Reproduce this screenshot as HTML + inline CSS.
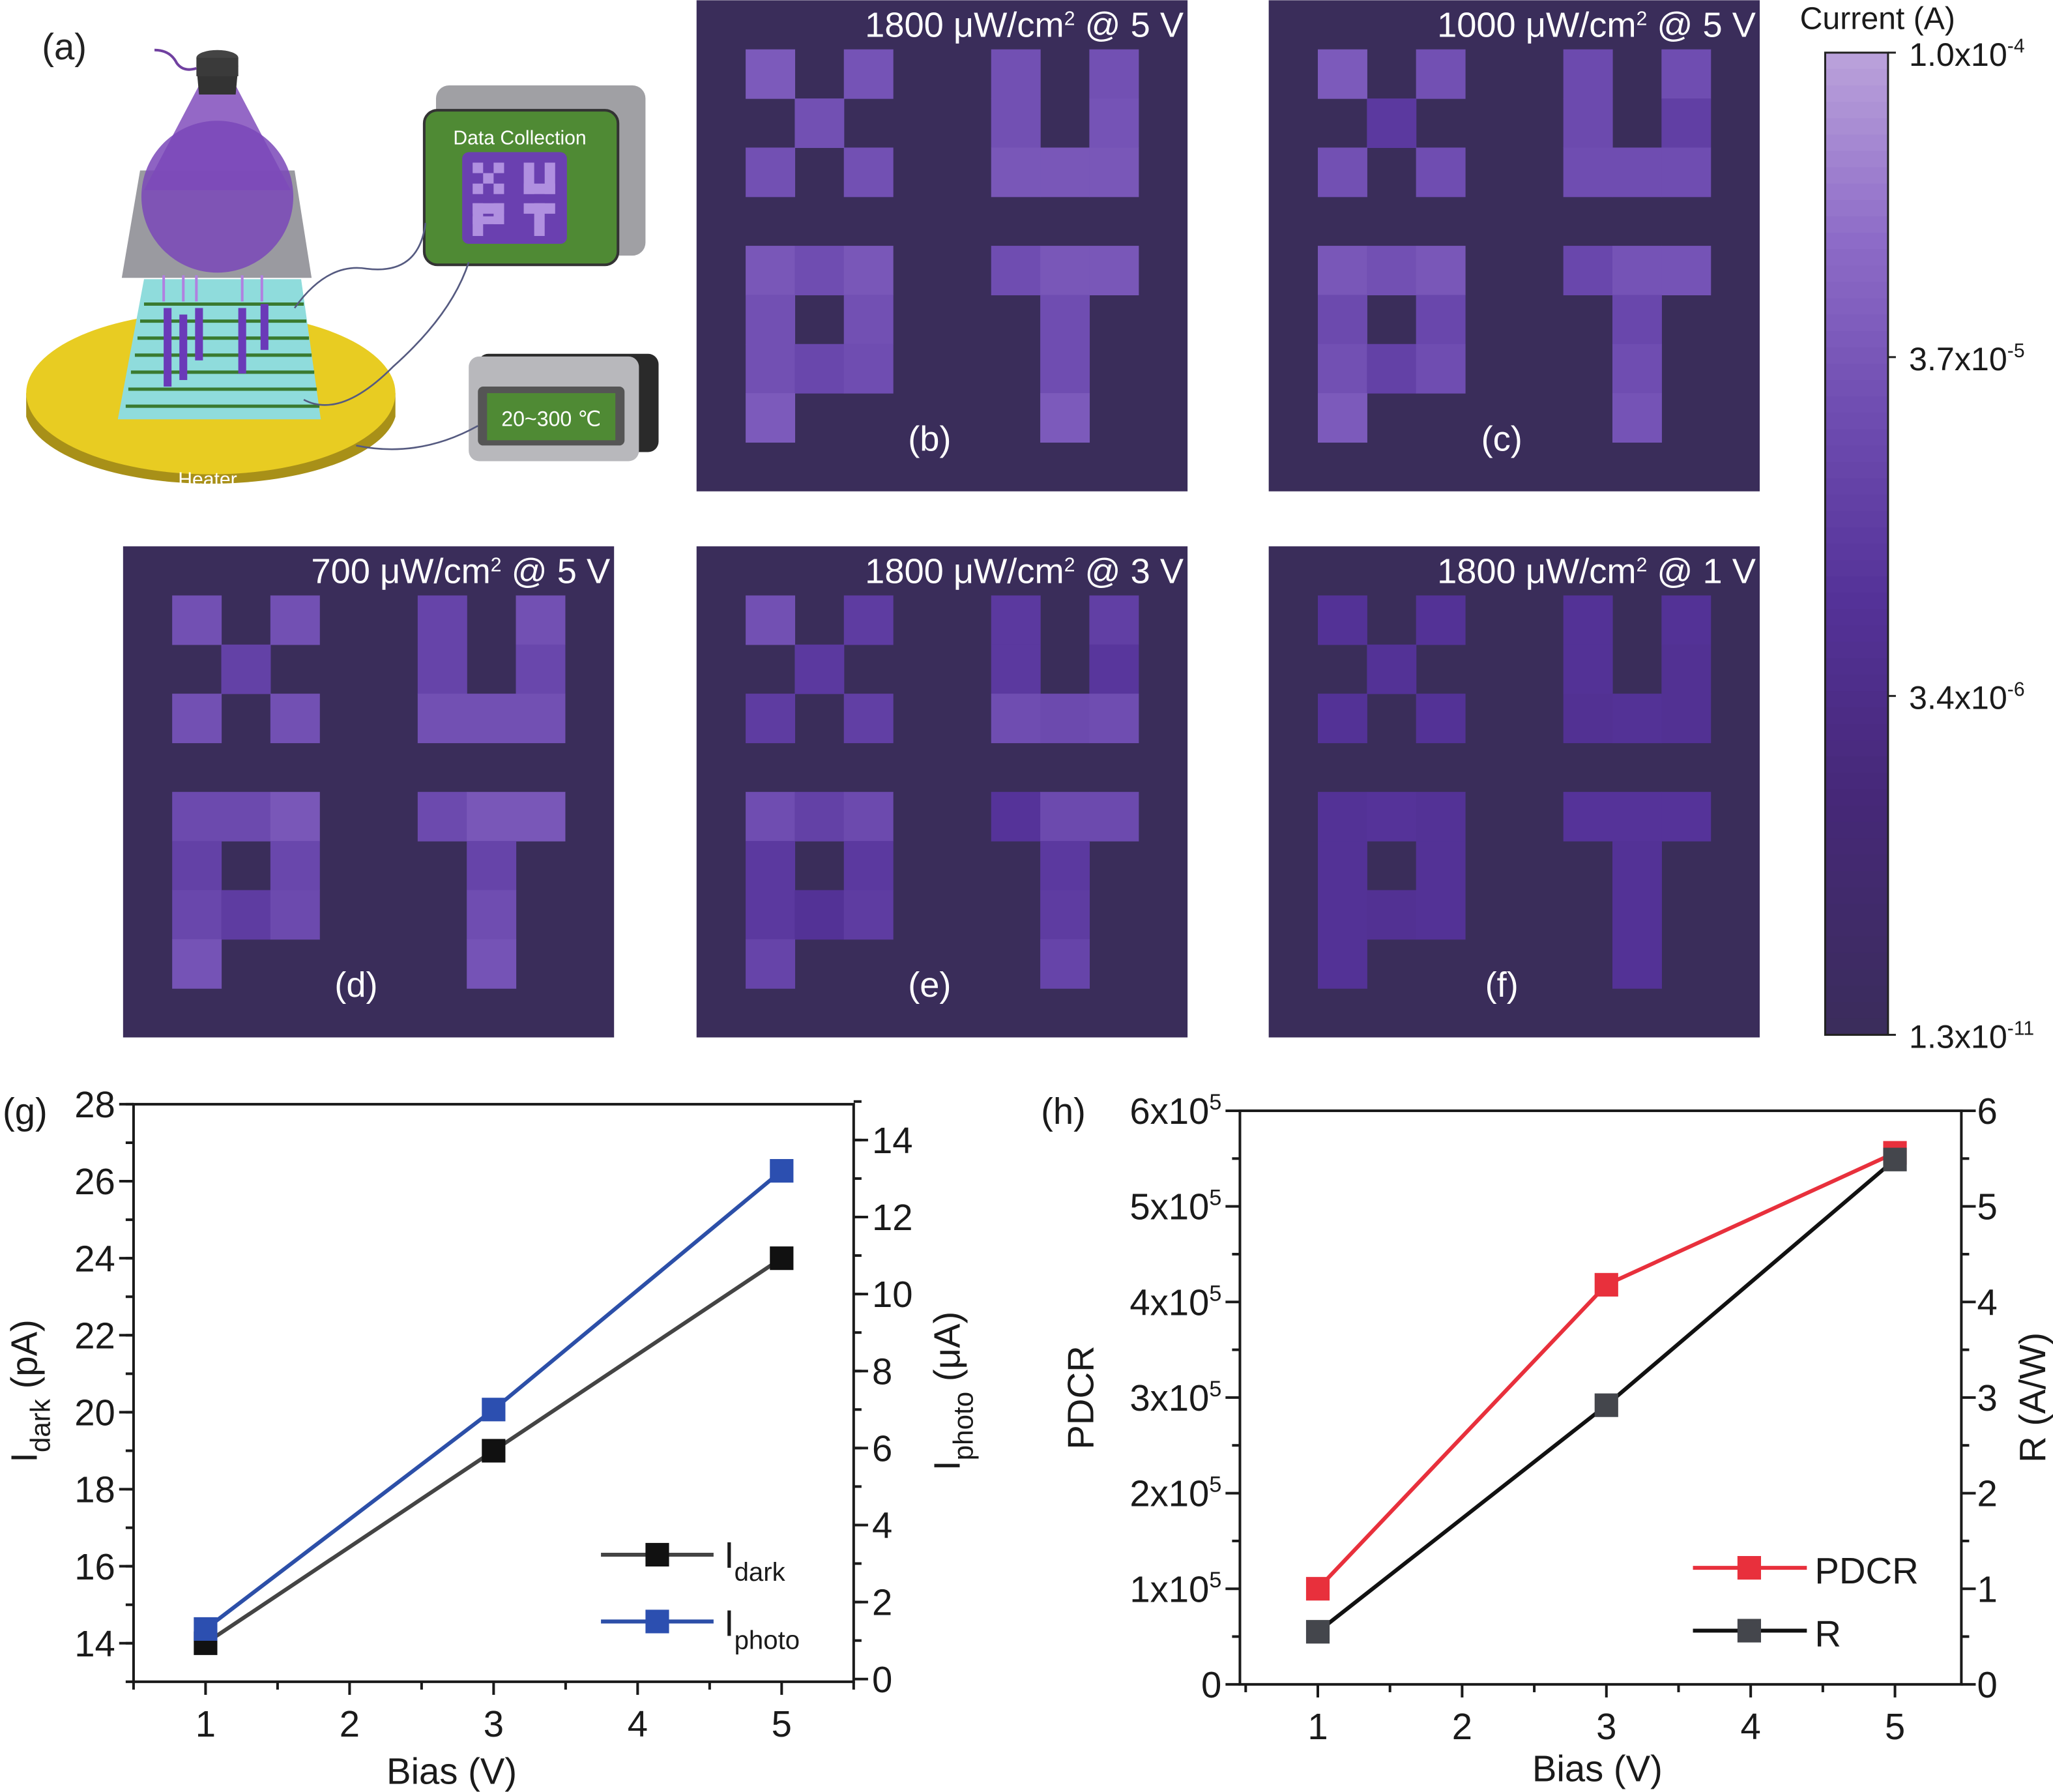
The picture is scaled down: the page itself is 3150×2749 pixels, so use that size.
<!DOCTYPE html>
<html><head><meta charset="utf-8"><style>
html,body{margin:0;padding:0;background:#fff}
svg{display:block}
text{font-family:"Liberation Sans",sans-serif}
</style></head><body>
<svg id="fig" xmlns="http://www.w3.org/2000/svg" width="3150" height="2749" viewBox="0 0 1568 1368">
<rect width="1568" height="1368" fill="#fff"/>
<!-- Panel (a) schematic -->
<g>
<text x="32" y="45" font-size="28" fill="#222">(a)</text>
<path d="M20 300 L20 318 A142 58 0 0 0 302 318 L302 300 Z" fill="#a89018"/>
<ellipse cx="161" cy="300" rx="141" ry="62" fill="#e8cc22"/>
<text x="136" y="371" font-size="15" fill="#fff" font-family="Liberation Serif">Heater</text>
<polygon points="110,213 230,213 245,320 90,320" fill="#8fdcdc"/>
<g stroke="#3a7a30" stroke-width="2.5">
<line x1="110" y1="232" x2="232" y2="232"/><line x1="107" y1="245" x2="234" y2="245"/><line x1="105" y1="258" x2="236" y2="258"/><line x1="103" y1="271" x2="238" y2="271"/><line x1="100" y1="284" x2="240" y2="284"/><line x1="98" y1="297" x2="242" y2="297"/><line x1="96" y1="310" x2="244" y2="310"/></g>
<g fill="#6a3ab8"><rect x="125" y="235" width="6" height="60"/><rect x="137" y="240" width="6" height="50"/><rect x="149" y="235" width="6" height="40"/><rect x="182" y="235" width="6" height="50"/><rect x="199" y="232" width="6" height="35"/></g>
<polygon points="107,130 225,130 238,212 93,212" fill="#9a9aa0"/>
<polygon points="152,65 180,65 222,145 110,145" fill="#8858c0" opacity="0.9"/>
<ellipse cx="166" cy="150" rx="58" ry="58" fill="#7a48b8" opacity="0.85"/>
<polygon points="150,50 182,50 180,72 152,72" fill="#333"/>
<ellipse cx="166" cy="44" rx="16" ry="6" fill="#444"/>
<rect x="150" y="44" width="32" height="14" fill="#3a3a3a"/>
<path d="M118 38 Q130 38 135 48 Q140 55 150 52" stroke="#7040a0" stroke-width="2" fill="none"/>
<g stroke="#b080e0" stroke-width="2"><line x1="125" y1="210" x2="125" y2="230"/><line x1="140" y1="210" x2="140" y2="230"/><line x1="150" y1="210" x2="150" y2="230"/><line x1="185" y1="210" x2="185" y2="230"/><line x1="200" y1="210" x2="200" y2="230"/></g>
<rect x="333" y="65" width="160" height="130" rx="10" fill="#a0a0a4"/>
<rect x="324" y="84" width="148" height="118" rx="10" fill="#4f8a34" stroke="#333" stroke-width="2"/>
<text x="397" y="110" font-size="15" fill="#fff" font-family="Liberation Serif" text-anchor="middle">Data Collection</text>
<rect x="353" y="116" width="80" height="70" rx="5" fill="#6a40b0"/>
<g fill="#b090e0"><rect x="361" y="124" width="8" height="8"/><rect x="377" y="124" width="8" height="8"/><rect x="369" y="132" width="8" height="8"/><rect x="361" y="140" width="8" height="8"/><rect x="377" y="140" width="8" height="8"/><rect x="400" y="124" width="8" height="24"/><rect x="416" y="124" width="8" height="24"/><rect x="400" y="140" width="24" height="8"/><rect x="361" y="155" width="24" height="8"/><rect x="361" y="155" width="8" height="25"/><rect x="377" y="155" width="8" height="16"/><rect x="361" y="165" width="24" height="6"/><rect x="400" y="155" width="24" height="8"/><rect x="408" y="155" width="8" height="25"/></g>
<rect x="365" y="270" width="138" height="75" rx="8" fill="#2a2a2a"/>
<rect x="358" y="272" width="130" height="80" rx="8" fill="#b8b8bc"/>
<rect x="365" y="295" width="112" height="45" rx="4" fill="#555"/>
<rect x="372" y="300" width="98" height="36" fill="#4f8a34"/>
<text x="421" y="325" font-size="16" fill="#fff" text-anchor="middle">20~300 ℃</text>
<g stroke="#555a80" stroke-width="1.3" fill="none"><path d="M225 235 Q250 200 280 205 Q320 210 325 170"/><path d="M232 305 Q260 320 300 280 Q345 240 358 200"/><path d="M272 340 Q320 350 365 325"/></g>
</g>
<g id="maps"></g>
<g id="cbar"></g>
<g id="chartG"></g>
<g id="chartH"></g>
</svg>
<script>
const NS="http://www.w3.org/2000/svg";
function mk(p,tag,attrs){const e=document.createElementNS(NS,tag);for(const k in attrs)e.setAttribute(k,attrs[k]);p.appendChild(e);return e;}
function txt(p,x,y,s,size,anchor,extra){const t=mk(p,'text',Object.assign({x:x,y:y,'font-size':size,'text-anchor':anchor||'start',fill:'#1a1a1a'},extra||{}));t.innerHTML=s;return t;}

// ---------- Heatmap data ----------
const mapTitles=["1800 μW/cm<tspan dy='-9' font-size='15'>2</tspan><tspan dy='9'> @ 5 V</tspan>","1000 μW/cm<tspan dy='-9' font-size='15'>2</tspan><tspan dy='9'> @ 5 V</tspan>","700 μW/cm<tspan dy='-9' font-size='15'>2</tspan><tspan dy='9'> @ 5 V</tspan>","1800 μW/cm<tspan dy='-9' font-size='15'>2</tspan><tspan dy='9'> @ 3 V</tspan>","1800 μW/cm<tspan dy='-9' font-size='15'>2</tspan><tspan dy='9'> @ 1 V</tspan>"];
const mapLabels=["(b)","(c)","(d)","(e)","(f)"];
// lit pixels [col,row] in 10x10 grid (X, U, P, T)
const litCells=[[1,1],[3,1],[2,2],[1,3],[3,3],[6,1],[8,1],[6,2],[8,2],[6,3],[7,3],[8,3],
[1,5],[2,5],[3,5],[1,6],[3,6],[1,7],[2,7],[3,7],[1,8],[6,5],[7,5],[8,5],[7,6],[7,7],[7,8]];
// normalized intensity (0..1 on colorbar) per lit cell, per panel
const mapB=[0.72,0.68,0.66,0.66,0.66,0.66,0.66,0.66,0.68,0.7,0.7,0.7,0.7,0.64,0.7,0.66,0.66,0.66,0.6,0.64,0.72,0.64,0.7,0.7,0.64,0.64,0.72];
const mapC=[0.72,0.66,0.5,0.66,0.64,0.62,0.64,0.62,0.54,0.64,0.64,0.64,0.7,0.66,0.7,0.62,0.6,0.66,0.56,0.64,0.72,0.6,0.68,0.68,0.6,0.64,0.68];
const mapD=[0.66,0.66,0.56,0.66,0.66,0.58,0.66,0.58,0.6,0.66,0.66,0.66,0.62,0.62,0.7,0.56,0.6,0.6,0.52,0.62,0.68,0.62,0.7,0.7,0.58,0.64,0.68];
const mapE=[0.66,0.52,0.5,0.52,0.54,0.5,0.54,0.5,0.48,0.64,0.62,0.64,0.64,0.56,0.62,0.5,0.5,0.5,0.44,0.52,0.58,0.46,0.62,0.62,0.5,0.52,0.58];
const mapF=[0.44,0.44,0.44,0.44,0.44,0.44,0.44,0.44,0.42,0.42,0.44,0.42,0.44,0.46,0.44,0.44,0.44,0.44,0.42,0.44,0.44,0.46,0.46,0.46,0.44,0.44,0.44];
const mapPos=[[532,0],[969,0],[94,417],[532,417],[969,417]];
const allMaps=[mapB,mapC,mapD,mapE,mapF];

// colormap: 0 -> dark bg, 1 -> light lilac
const cstops=[[0,[58,45,90]],[0.25,[70,40,120]],[0.45,[84,50,152]],[0.65,[112,78,178]],[0.82,[142,108,200]],[1,[185,160,218]]];
function cmap(v){for(let i=1;i<cstops.length;i++){if(v<=cstops[i][0]){const a=cstops[i-1],b=cstops[i];const t=(v-a[0])/(b[0]-a[0]);return 'rgb('+a[1].map((c,j)=>Math.round(c+(b[1][j]-c)*t)).join(',')+')';}}return 'rgb(185,160,218)';}

const maps=document.getElementById('maps');
const cell=37.5;
allMaps.forEach((vals,m)=>{
  const g=mk(maps,'g',{});
  
  
  const [ox,oy]=mapPos[m];
  mk(g,'rect',{x:ox,y:oy,width:375,height:375,fill:'#3a2d5a'});
  litCells.forEach((c,i)=>{
    const r=mk(g,'rect',{x:ox+c[0]*cell,y:oy+c[1]*cell,width:cell+0.3,height:cell+0.3,fill:cmap(vals[i])});
    
    
  });
  const t=txt(g,ox+372,oy+28,mapTitles[m],27,'end',{fill:'#fff'});
  
  
  const l=txt(g,ox+(m==2||m==4?178:178),oy+344,mapLabels[m],27,'middle',{fill:'#fff'});
  
  
});

// ---------- Colorbar ----------
const cbTicks=["1.0x10<tspan dy='-10' font-size='15'>-4</tspan>","3.7x10<tspan dy='-10' font-size='15'>-5</tspan>","3.4x10<tspan dy='-10' font-size='15'>-6</tspan>","1.3x10<tspan dy='-10' font-size='15'>-11</tspan>"];
const cbTickFrac=[1,0.69,0.345,0];
const cb=document.getElementById('cbar');


const cbX=1394,cbTop=40,cbBot=790,cbW=48;
const N=60;
for(let i=0;i<N;i++){const v=1-i/N;mk(cb,'rect',{x:cbX,y:cbTop+i*(cbBot-cbTop)/N,width:cbW,height:(cbBot-cbTop)/N+0.6,fill:cmap(v)});}
mk(cb,'rect',{x:cbX,y:cbTop,width:cbW,height:cbBot-cbTop,fill:'none',stroke:'#222','stroke-width':1.5});
cbTickFrac.forEach((f,i)=>{const y=cbBot-f*(cbBot-cbTop);mk(cb,'line',{x1:cbX+cbW,x2:cbX+cbW+6,y1:y,y2:y,stroke:'#222','stroke-width':1.5});
 const t=txt(cb,cbX+cbW+16,y+10,cbTicks[i],25,'start');});
const cbt=txt(cb,1434,22,'Current (A)',24,'middle');

// ---------- Chart (g) data ----------
const biasG=[1,3,5];
const idark=[14,19,24];
const iphoto=[1.3,7.0,13.2];
const gLeftTicks=[14,16,18,20,22,24,26,28];
const gRightTicks=[0,2,4,6,8,10,12,14];
const xTicks=[1,2,3,4,5];
// ---------- Chart (h) data ----------
const biasH=[1,3,5];
const pdcr=[1.0,4.18,5.56]; // x10^5
const resp=[0.55,2.92,5.49];
const hLeftTicks=[0,1,2,3,4,5,6];
const hRightTicks=[0,1,2,3,4,5,6];

function drawAxes(g,L,R,T,B,xs,yl,yr,xT,ylT,yrT,ylMinor,yrMinor){
  mk(g,'rect',{x:L,y:T,width:R-L,height:B-T,fill:'none',stroke:'#1a1a1a','stroke-width':2});
  xT.forEach(v=>{const x=xs(v);mk(g,'line',{x1:x,x2:x,y1:B,y2:B+10,stroke:'#1a1a1a','stroke-width':2});
    const t=txt(g,x,B+42,String(v),28,'middle');});
  for(let v=xT[0]-0.5;v<=xT[xT.length-1]+0.5;v+=1){const x=xs(v);if(x>=L-1&&x<=R+1)mk(g,'line',{x1:x,x2:x,y1:B,y2:B+6,stroke:'#1a1a1a','stroke-width':2});}
  ylMinor.forEach(v=>{const y=yl(v);mk(g,'line',{x1:L-6,x2:L,y1:y,y2:y,stroke:'#1a1a1a','stroke-width':2});});
  yrMinor.forEach(v=>{const y=yr(v);mk(g,'line',{x1:R,x2:R+6,y1:y,y2:y,stroke:'#1a1a1a','stroke-width':2});});
}

// Chart g
(function(){
  const g=document.getElementById('chartG');
  
  
  const L=102,R=652,T=843,B=1284;
  const xs=v=>L+(v-0.5)/5*(R-L);
  const yl=v=>B-(v-13)/15*(B-T);
  const yr=v=>B-(v+0.07)/15*(B-T);
  const lm=[],rm=[];for(let v=13;v<=28;v+=1)lm.push(v);for(let v=1;v<=15;v+=1)rm.push(v);
  drawAxes(g,L,R,T,B,xs,yl,yr,xTicks,gLeftTicks,gRightTicks,lm,rm);
  gLeftTicks.forEach(v=>{const y=yl(v);mk(g,'line',{x1:L-11,x2:L,y1:y,y2:y,stroke:'#1a1a1a','stroke-width':2});
    const t=txt(g,L-14,y+10,String(v),28,'end');});
  gRightTicks.forEach(v=>{const y=yr(v);mk(g,'line',{x1:R,x2:R+11,y1:y,y2:y,stroke:'#1a1a1a','stroke-width':2});
    const t=txt(g,R+14,y+10,String(v),28,'start');});
  const ld=mk(g,'polyline',{points:biasG.map((b,i)=>xs(b)+','+yl(idark[i])).join(' '),fill:'none',stroke:'#444','stroke-width':3});
  
  const lp=mk(g,'polyline',{points:biasG.map((b,i)=>xs(b)+','+yr(iphoto[i])).join(' '),fill:'none',stroke:'#2c4fa8','stroke-width':3});
  
  biasG.forEach((b,i)=>{const r=mk(g,'rect',{x:xs(b)-9,y:yl(idark[i])-9,width:18,height:18,fill:'#111'});});
  biasG.forEach((b,i)=>{const r=mk(g,'rect',{x:xs(b)-9,y:yr(iphoto[i])-9,width:18,height:18,fill:'#2c4fb0'});});
  // legend
  const lg=mk(g,'g',{});
  mk(lg,'line',{x1:459,x2:545,y1:1187,y2:1187,stroke:'#444','stroke-width':3});mk(lg,'rect',{x:493,y:1178,width:18,height:18,fill:'#111'});
  txt(lg,553,1197,"I<tspan dy='10' font-size='20'>dark</tspan>",28,'start');
  mk(lg,'line',{x1:459,x2:545,y1:1238,y2:1238,stroke:'#2c4fa8','stroke-width':3});mk(lg,'rect',{x:493,y:1229,width:18,height:18,fill:'#2c4fb0'});
  txt(lg,553,1249,"I<tspan dy='10' font-size='20'>photo</tspan>",28,'start');
  const xl=txt(g,345,1362,'Bias (V)',28,'middle');
  const y1=txt(g,0,0,"I<tspan dy='10' font-size='21'>dark</tspan><tspan dy='-10'> (pA)</tspan>",28,'middle',{transform:'translate(28,1062) rotate(-90)'});
  const y2=txt(g,0,0,"I<tspan dy='10' font-size='21'>photo</tspan><tspan dy='-10'> (μA)</tspan>",28,'middle',{transform:'translate(733,1062) rotate(-90)'});
  const pl=txt(g,2,858,'(g)',28,'start');
})();

// Chart h
(function(){
  const g=document.getElementById('chartH');
  
  
  const L=947,R=1498,T=848,B=1286;
  const xs=v=>L+(v-0.46)/5*(R-L)*1.0;
  const yl=v=>B-v/6*(B-T);
  const yr=v=>B-v/6*(B-T);
  const lm=[],rm=[];for(let v=0.5;v<6;v+=1){lm.push(v);rm.push(v);}
  drawAxes(g,L,R,T,B,xs,yl,yr,xTicks,hLeftTicks,hRightTicks,lm,rm);
  hLeftTicks.forEach(v=>{const y=yl(v);mk(g,'line',{x1:L-11,x2:L,y1:y,y2:y,stroke:'#1a1a1a','stroke-width':2});
    const s=v===0?'0':v+"x10<tspan dy='-11' font-size='17'>5</tspan>";
    const t=txt(g,L-14,y+10,s,28,'end');});
  hRightTicks.forEach(v=>{const y=yr(v);mk(g,'line',{x1:R,x2:R+11,y1:y,y2:y,stroke:'#1a1a1a','stroke-width':2});
    const t=txt(g,R+12,y+10,String(v),28,'start');});
  const lp=mk(g,'polyline',{points:biasH.map((b,i)=>xs(b)+','+yl(pdcr[i])).join(' '),fill:'none',stroke:'#e8303c','stroke-width':3});
  
  const lr=mk(g,'polyline',{points:biasH.map((b,i)=>xs(b)+','+yr(resp[i])).join(' '),fill:'none',stroke:'#111','stroke-width':3});
  
  biasH.forEach((b,i)=>{const r=mk(g,'rect',{x:xs(b)-9,y:yl(pdcr[i])-9,width:18,height:18,fill:'#e8303c'});});
  biasH.forEach((b,i)=>{const r=mk(g,'rect',{x:xs(b)-9,y:yr(resp[i])-9,width:18,height:18,fill:'#44464c'});});
  const lg=mk(g,'g',{});
  mk(lg,'line',{x1:1293,x2:1380,y1:1197,y2:1197,stroke:'#e8303c','stroke-width':3});mk(lg,'rect',{x:1327,y:1188,width:18,height:18,fill:'#e8303c'});
  txt(lg,1386,1209,'PDCR',28,'start');
  mk(lg,'line',{x1:1293,x2:1380,y1:1245,y2:1245,stroke:'#111','stroke-width':3});mk(lg,'rect',{x:1327,y:1236,width:18,height:18,fill:'#44464c'});
  txt(lg,1386,1257,'R',28,'start');
  const xl=txt(g,1220,1360,'Bias (V)',28,'middle');
  const y1=txt(g,0,0,'PDCR',28,'middle',{transform:'translate(835,1067) rotate(-90)'});
  const y2=txt(g,0,0,'R (A/W)',28,'middle',{transform:'translate(1562,1067) rotate(-90)'});
  const pl=txt(g,795,858,'(h)',28,'start');
})();
</script>
</body></html>
